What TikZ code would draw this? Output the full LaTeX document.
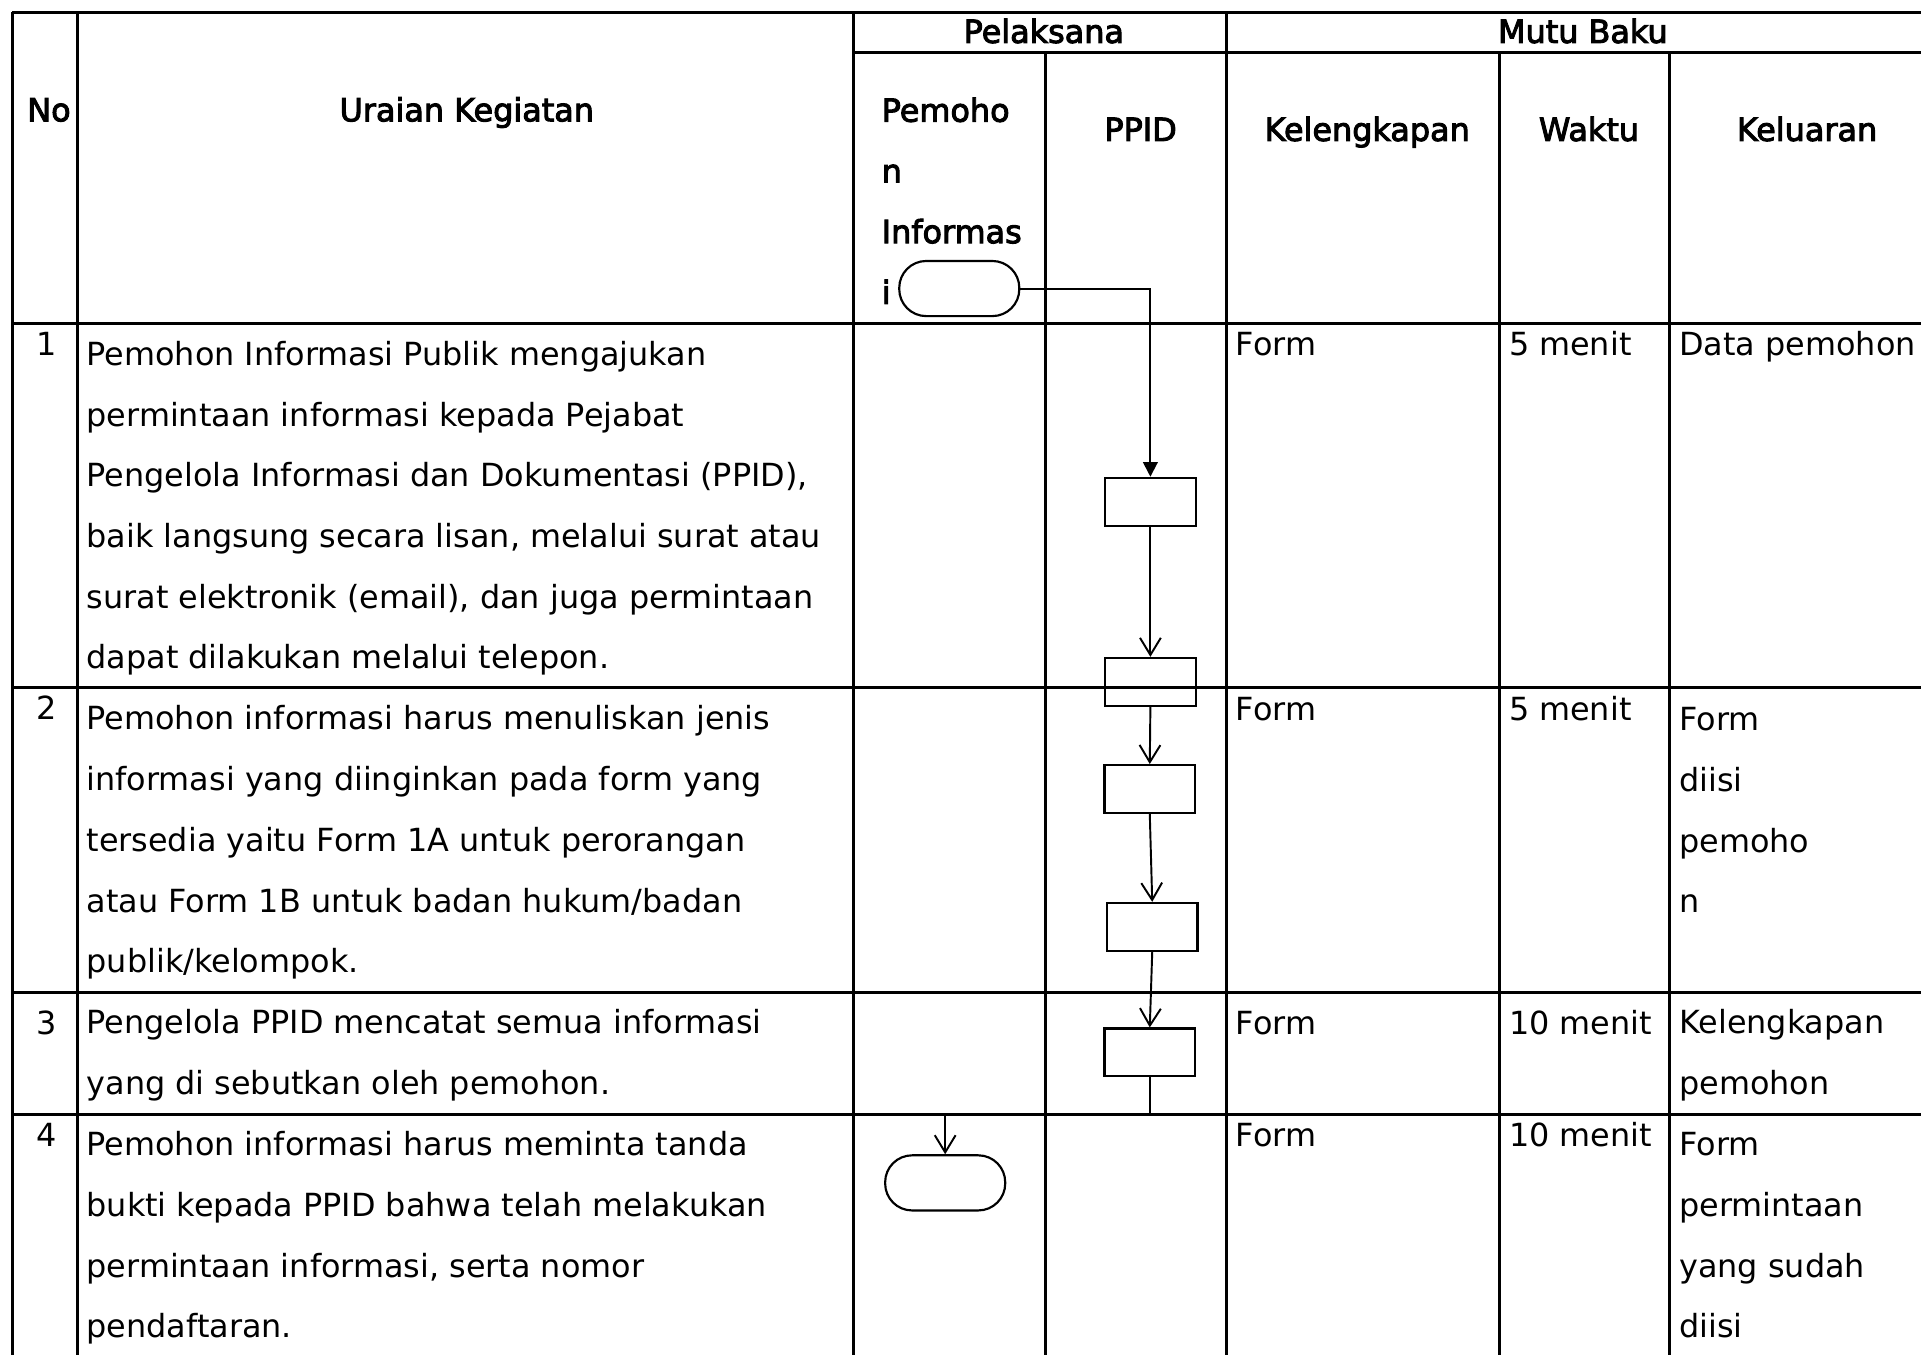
\documentclass[tikz,border=0pt]{standalone}
\usepackage{fontspec}
\setmainfont{DejaVu Sans}
\newfontfamily\tebal{DejaVu Sans}[FakeBold=3]
\usepackage{tikz}
\usetikzlibrary{arrows.meta}
\definecolor{garis}{HTML}{000000}
\tikzset{
  tabel/.style={draw=garis, line width=0.7pt},
  alur/.style={draw=garis, line width=0.45pt},
  kotak/.style={draw=garis, line width=0.5pt, minimum width=7.4mm, minimum height=3.9mm, inner sep=0pt},
  terminal/.style={kotak, rounded corners=2.2mm, minimum width=9.8mm, minimum height=4.5mm},
  panah/.style={alur, -{Straight Barb[length=1.4mm,width=1.7mm]}},
  panahpenuh/.style={alur, -{Triangle[length=1.2mm,width=1.2mm]}},
  judul/.style={font=\fontsize{7.4}{14.1}\selectfont\tebal, anchor=base, inner sep=0pt},
  isi/.style={font=\fontsize{7.4}{14.1}\selectfont, anchor=base west, inner sep=0pt, align=left},
  nomor/.style={font=\fontsize{7.4}{14.1}\selectfont, anchor=base, inner sep=0pt}
}

\begin{document}
\begin{tikzpicture}[x=0.1mm, y=-0.1mm]
  \useasboundingbox (0,0) rectangle (1568,1106);

  \draw[tabel] (10,10) -- (1568,10);
  \draw[tabel] (697,43) -- (1568,43);
  \draw[tabel] (10,264) -- (1568,264);
  \draw[tabel] (10,561) -- (1568,561);
  \draw[tabel] (10,810) -- (1568,810);
  \draw[tabel] (10,910) -- (1568,910);
  \draw[tabel] (10,10) -- (10,1106);
  \draw[tabel] (63,10) -- (63,1106);
  \draw[tabel] (697,10) -- (697,1106);
  \draw[tabel] (853,43) -- (853,1106);
  \draw[tabel] (1001,10) -- (1001,1106);
  \draw[tabel] (1224,43) -- (1224,1106);
  \draw[tabel] (1363,43) -- (1363,1106);

  % multi-line nodes sit on the baseline of their last line
  \node[judul] (no) at (40,99) {No};
  \node[judul] (uraian) at (381,99) {Uraian Kegiatan};
  \node[judul] (pelaksana) at (852,35) {Pelaksana};
  \node[judul] (mutu) at (1292,35) {Mutu Baku};
  \node[judul, anchor=base west, align=left] (pemohon) at (719,248) {Pemoho\\n\\Informas\\i};
  \node[judul] (ppid) at (931,115) {PPID};
  \node[judul] (kelengkapan) at (1116,115) {Kelengkapan};
  \node[judul] (waktu) at (1297,115) {Waktu};
  \node[judul] (keluaran) at (1475,115) {Keluaran};

  \node[nomor] (n1) at (38,290) {1};
  \node[isi] (u1) at (70,546) {Pemohon Informasi Publik mengajukan\\permintaan informasi kepada Pejabat\\Pengelola Informasi dan Dokumentasi (PPID),\\baik langsung secara lisan, melalui surat atau\\surat elektronik (email), dan juga permintaan\\dapat dilakukan melalui telepon.};
  \node[isi] (f1) at (1008,290) {Form};
  \node[isi] (w1) at (1231,290) {5 menit};
  \node[isi] (k1txt) at (1370,290) {Data pemohon};

  \node[nomor] (n2) at (38,587) {2};
  \node[isi] (u2) at (70,794) {Pemohon informasi harus menuliskan jenis\\informasi yang diinginkan pada form yang\\tersedia yaitu Form 1A untuk perorangan\\atau Form 1B untuk badan hukum/badan\\publik/kelompok.};
  \node[isi] (f2) at (1008,588) {Form};
  \node[isi] (w2) at (1231,588) {5 menit};
  \node[isi] (k2txt) at (1370,745) {Form\\diisi\\pemoho\\n};

  \node[nomor] (n3) at (38,844) {3};
  \node[isi] (u3) at (70,893) {Pengelola PPID mencatat semua informasi\\yang di sebutkan oleh pemohon.};
  \node[isi] (f3) at (1008,844) {Form};
  \node[isi] (w3) at (1231,844) {10 menit};
  \node[isi] (k3txt) at (1370,893) {Kelengkapan\\pemohon};

  \node[nomor] (n4) at (38,936) {4};
  \node[isi] (u4) at (70,1092) {Pemohon informasi harus meminta tanda\\bukti kepada PPID bahwa telah melakukan\\permintaan informasi, serta nomor\\pendaftaran.};
  \node[isi] (f4) at (1008,936) {Form};
  \node[isi] (w4) at (1231,936) {10 menit};
  \node[isi] (k4txt) at (1370,1092) {Form\\permintaan\\yang sudah\\diisi};

  \node[terminal] (mulai) at (783,235.5) {};
  \node[kotak] (s1) at (939,409.5) {};
  \node[kotak] (s2) at (939,556.5) {};
  \node[kotak] (s3) at (938.5,644) {};
  \node[kotak] (s4) at (940.5,756.5) {};
  \node[kotak] (s5) at (938.5,859) {};
  \node[terminal] (selesai) at (771.5,965.5) {};
  \coordinate (belok) at (0,910);

  \draw[panahpenuh] (mulai.east) -| (s1.north);
  \draw[panah] (s1.south) -- (s2.north);
  \draw[panah] (s2.south) -- (s3.north);
  \draw[panah] (s3.south) -- (s4.north);
  \draw[panah] (s4.south) -- (s5.north);
  \draw[panah] (s5.south) |- (selesai.north |- belok) -- (selesai.north);
\end{tikzpicture}
\end{document}
